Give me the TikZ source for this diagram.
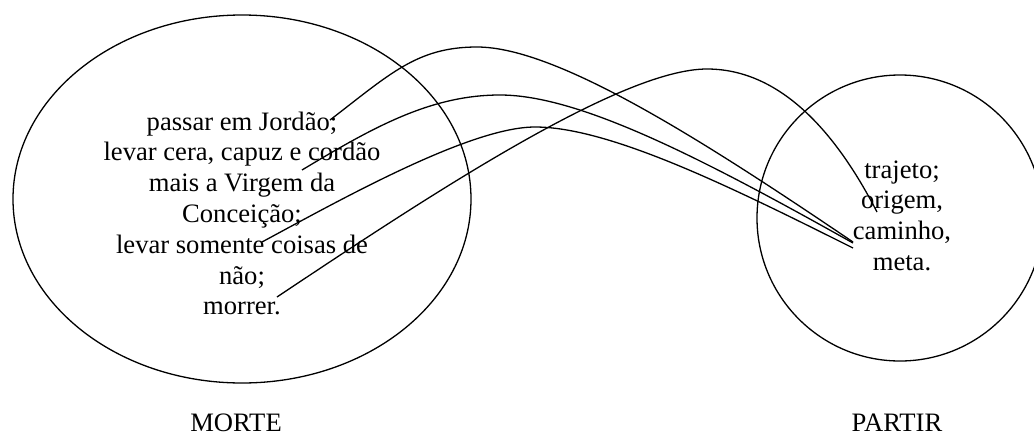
\documentclass[tikz,border=0pt]{standalone}
\usepackage{fontspec}
\setmainfont{Liberation Serif}
\usetikzlibrary{shapes.geometric}
\begin{document}
\begin{tikzpicture}[x=1pt,y=-1pt,
  txt/.style={inner sep=0pt, anchor=base, font=\fontsize{26.6}{30.8}\selectfont},
  setshape/.style={draw, line width=1.3pt, inner sep=0pt},
  link/.style={draw, line width=1.3pt}]
\useasboundingbox (0,0) rectangle (1034,437);
% sets
\node[setshape, ellipse, minimum width=458pt, minimum height=368pt] (morteset) at (242,199) {};
\node[setshape, circle, minimum size=286pt] (partirset) at (900,218) {};
% left text
\node[txt] (l1) at (242,130) {passar em Jordão;};
\node[txt] (l2) at (242,160.8) {levar cera, capuz e cordão};
\node[txt] (l3) at (242,191.6) {mais a Virgem da};
\node[txt] (l4) at (242,222.4) {Conceição;};
\node[txt] (l5) at (242,253.2) {levar somente coisas de};
\node[txt] (l6) at (242,284) {não;};
\node[txt] (l7) at (242,314.8) {morrer.};
% right text
\node[txt] (r1) at (902,178) {trajeto;};
\node[txt] (r2) at (902,208.8) {origem,};
\node[txt] (r3) at (902,239.6) {caminho,};
\node[txt] (r4) at (902,270.4) {meta.};
% labels
\node[txt] (morte) at (236,431) {MORTE};
\node[txt] (partir) at (897,431) {PARTIR};
% connector ends
\coordinate (sA) at (330,120);
\coordinate (sB) at (302,170);
\coordinate (sC) at (262,242);
\coordinate (sD) at (277,297);
\coordinate (eA) at (853,242);
\coordinate (eB) at (853,243);
\coordinate (eC) at (853,248);
\coordinate (eD) at (877,212);
% connectors
\path[link] (sA) .. controls (390,74) and (417,47) .. (477,47)
               .. controls (557,47) and (703,140.5) .. (eA);
\path[link] (sB) .. controls (372,128) and (430,95) .. (500,95)
               .. controls (580,95) and (703,159) .. (eB);
\path[link] (sC) .. controls (340,200) and (470,127) .. (535,127)
               .. controls (610,127) and (733,188) .. (eC);
\path[link] (sD) .. controls (427,197) and (620,69) .. (707,69)
               .. controls (790,69) and (845,150) .. (eD);
\end{tikzpicture}
\end{document}
